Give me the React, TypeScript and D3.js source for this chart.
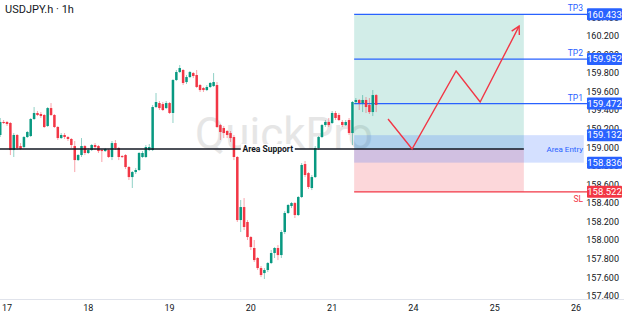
import React from 'react';
import * as d3 from 'd3';

const W = 624;
const H = 316;
const title = 'USDJPY.h · 1h';
const watermark = 'QuickPro';

const dayTicks = [2, 26, 50, 74, 98, 122, 146, 170];
const dayLabels = ['17', '18', '19', '20', '21', '24', '25', '26'];
const priceTicks = [157.4, 157.6, 157.8, 158.0, 158.2, 158.4, 158.6, 158.8, 159.0, 159.2, 159.4, 159.6, 159.8, 160.0, 160.2, 160.4];

const openP = [159.134,159.274,159.274,159.263,158.972,159.134,159.015,159.004,159.112,159.123,159.306,159.371,159.360,159.349,159.231,159.424,159.349,159.220,159.101,159.134,159.112,159.091,159.015,158.864,158.918,159.015,158.940,158.972,159.026,159.015,158.972,158.961,158.972,158.897,159.047,158.994,158.907,158.918,158.789,158.681,158.735,158.757,158.897,158.897,158.972,158.972,159.435,159.478,159.467,159.424,159.478,159.371,159.726,159.812,159.834,159.704,159.758,159.801,159.780,159.672,159.640,159.618,159.651,159.661,159.672,159.241,159.209,159.177,159.155,159.112,158.897,158.218,158.358,158.197,158.035,157.917,157.809,157.701,157.647,157.680,157.755,157.863,157.917,157.841,158.089,158.294,158.369,158.401,158.272,158.466,158.821,158.724,158.563,158.681,158.994,159.112,159.241,159.274,159.263,159.371,159.349,159.274,159.241,159.295,159.155,159.489,159.511,159.478,159.511,159.457,159.381,159.564];
const highP = [159.317,159.295,159.284,159.274,159.155,159.144,159.047,159.123,159.177,159.317,159.435,159.392,159.381,159.360,159.435,159.478,159.360,159.231,159.155,159.155,159.123,159.101,159.069,158.929,159.101,159.026,158.994,159.037,159.047,159.026,158.983,158.994,158.983,159.069,159.080,159.004,158.918,158.929,158.800,158.746,158.778,158.951,158.961,159.026,159.037,159.457,159.586,159.500,159.489,159.500,159.489,159.737,159.834,159.887,159.844,159.780,159.823,159.812,159.834,159.683,159.651,159.672,159.704,159.801,159.704,159.252,159.231,159.187,159.177,159.134,158.907,158.434,158.455,158.218,158.046,158.003,157.820,157.723,157.701,157.766,157.895,157.927,157.949,158.111,158.315,158.391,158.412,158.412,158.477,158.832,158.854,158.735,158.703,159.015,159.123,159.252,159.295,159.317,159.392,159.392,159.371,159.295,159.295,159.317,159.500,159.532,159.521,159.564,159.543,159.532,159.618,159.575];
const lowP = [159.112,159.252,159.231,158.918,158.897,158.972,158.972,158.994,159.101,159.112,159.295,159.338,159.317,159.209,159.220,159.338,159.209,159.080,159.091,159.091,159.069,158.994,158.735,158.854,158.897,158.918,158.929,158.961,158.972,158.940,158.843,158.951,158.886,158.864,158.972,158.864,158.886,158.768,158.649,158.563,158.714,158.746,158.886,158.886,158.961,158.961,159.424,159.403,159.392,159.414,159.360,159.263,159.715,159.801,159.672,159.683,159.747,159.747,159.640,159.597,159.597,159.607,159.640,159.651,159.209,159.080,159.101,159.101,159.058,158.864,158.197,158.089,158.111,158.003,157.895,157.766,157.680,157.604,157.583,157.658,157.744,157.809,157.787,157.809,158.067,158.283,158.347,158.240,158.261,158.455,158.681,158.552,158.541,158.671,158.972,159.101,159.220,159.220,159.252,159.295,159.284,159.220,159.231,159.134,159.026,159.467,159.403,159.381,159.371,159.360,159.338,159.381];
const closeP = [159.274,159.263,159.252,158.972,159.134,158.994,158.983,159.112,159.166,159.306,159.371,159.349,159.338,159.220,159.424,159.349,159.220,159.101,159.134,159.112,159.091,159.026,158.864,158.918,159.015,158.940,158.972,159.026,159.004,158.961,158.961,158.983,158.897,159.047,158.994,158.897,158.897,158.789,158.681,158.735,158.757,158.940,158.940,159.004,159.004,159.435,159.489,159.424,159.403,159.478,159.371,159.726,159.812,159.855,159.694,159.758,159.812,159.769,159.651,159.618,159.618,159.651,159.694,159.704,159.220,159.166,159.155,159.134,159.101,158.897,158.218,158.358,158.143,158.035,157.927,157.787,157.701,157.626,157.680,157.755,157.863,157.917,157.841,158.089,158.294,158.380,158.401,158.272,158.466,158.811,158.703,158.574,158.681,158.994,159.112,159.241,159.274,159.241,159.371,159.317,159.295,159.241,159.274,159.155,159.489,159.511,159.478,159.511,159.435,159.381,159.564,159.457];

const tpNames = ['TP3', 'TP2', 'TP1'];
const tpPrices = [160.433, 159.952, 159.472];
const entryHigh = 159.132;
const entryLow = 158.836;
const slPrice = 158.522;
const supportPrice = 158.983;
const supportLabelIdx = 79;
const boxStartIdx = 104.5;
const boxEndIdx = 154.6;
const bandEndIdx = 172.3;
const arrowIdx = [114.5, 121.6, 134.6, 141.7, 153.2];
const arrowPrice = [159.306, 158.983, 159.823, 159.489, 160.307];

const GREEN = '#089981';
const RED = '#f23645';
const BLUE = '#2962ff';
const TEXT = '#131722';
const FONT = 'Roboto, "Noto Sans", sans-serif';

export default function App() {
  const x = d3.scaleLinear().domain([2, 170]).range([7, 576]);
  const y = d3.scaleLinear().domain([157.4, 160.2]).range([296, 36]);
  const plotRight = 587;
  const step = x(1) - x(0);
  const bw = step * 0.74;

  const candles = openP.map((o, i) => ({ o, h: highP[i], l: lowP[i], c: closeP[i], i }));

  const arrowPts: [number, number][] = arrowIdx.map((ix, k) => [x(ix), y(arrowPrice[k])]);
  const line = d3.line();
  const n = arrowPts.length;
  const [ax, ay] = arrowPts[n - 1];
  const [bx, by] = arrowPts[n - 2];
  const ang = Math.atan2(ay - by, ax - bx);
  const hl = 9;
  const a1 = ang + Math.PI - 0.5;
  const a2 = ang + Math.PI + 0.5;
  const head = `M${ax + hl * Math.cos(a1)},${ay + hl * Math.sin(a1)}L${ax},${ay}L${ax + hl * Math.cos(a2)},${ay + hl * Math.sin(a2)}`;

  const x0 = x(boxStartIdx);
  const x1 = x(boxEndIdx);
  const xb = x(bandEndIdx);
  const tags = [
    ...tpPrices.map((p) => ({ p, color: BLUE })),
    { p: entryHigh, color: BLUE },
    { p: entryLow, color: BLUE },
    { p: slPrice, color: RED },
  ];

  return (
    <div style={{ position: 'fixed', left: 0, top: 0 }}>
      <svg width={W} height={H} style={{ display: 'block', fontFamily: FONT }}>
        <rect width={W} height={H} fill="#ffffff" />
        <text x={284} y={149} textAnchor="middle" fontSize={44} fill="#e6e6e6">{watermark}</text>

        <rect x={x0} y={y(tpPrices[0])} width={x1 - x0} height={y(supportPrice) - y(tpPrices[0])} fill={GREEN} fillOpacity={0.18} />
        <rect x={x0} y={y(supportPrice)} width={x1 - x0} height={y(slPrice) - y(supportPrice)} fill={RED} fillOpacity={0.2} />
        <rect x={x0} y={y(entryHigh)} width={xb - x0} height={y(entryLow) - y(entryHigh)} fill={BLUE} fillOpacity={0.2} />

        {tpPrices.map((p, k) => (
          <line key={k} x1={x0} x2={plotRight} y1={y(p)} y2={y(p)} stroke={BLUE} strokeWidth={1.3} />
        ))}
        <line x1={x0} x2={plotRight} y1={y(slPrice)} y2={y(slPrice)} stroke={RED} strokeWidth={1.3} />

        {candles.map((d) => {
          const col = d.c >= d.o ? GREEN : RED;
          const cx = x(d.i);
          const top = y(Math.max(d.o, d.c));
          const bot = y(Math.min(d.o, d.c));
          return (
            <g key={d.i}>
              <line x1={cx} x2={cx} y1={y(d.h)} y2={y(d.l)} stroke={col} strokeOpacity={0.45} strokeWidth={1} />
              <rect x={cx - bw / 2} y={top} width={bw} height={Math.max(1, bot - top)} fill={col} />
            </g>
          );
        })}

        <line x1={0} x2={x1} y1={y(supportPrice)} y2={y(supportPrice)} stroke={TEXT} strokeWidth={1.4} />
        <rect x={x(supportLabelIdx) - 27} y={y(supportPrice) - 5} width={54} height={10} fill="#ffffff" />
        <text x={x(supportLabelIdx)} y={y(supportPrice)} dy="0.35em" textAnchor="middle" fontSize={8.5} fontWeight="bold" fill={TEXT}>Area Support</text>

        <path d={line(arrowPts) || ''} fill="none" stroke={RED} strokeWidth={1.4} strokeLinejoin="miter" />
        <path d={head} fill="none" stroke={RED} strokeWidth={1.4} />

        {priceTicks.map((t) => (
          <text key={t} x={619} y={y(t)} dy="0.35em" textAnchor="end" fontSize={9} fill={TEXT}>{t.toFixed(3)}</text>
        ))}

        {tags.map((t, k) => (
          <g key={k}>
            <rect x={587} y={y(t.p) - 6} width={35} height={12} fill={t.color} rx={1} />
            <text x={604.5} y={y(t.p)} dy="0.35em" textAnchor="middle" fontSize={9.5} fill="#ffffff">{t.p.toFixed(3)}</text>
          </g>
        ))}

        {tpNames.map((nm, k) => (
          <text key={nm} x={583} y={y(tpPrices[k]) - 3} textAnchor="end" fontSize={8.5} fill={BLUE}>{nm}</text>
        ))}
        <text x={583} y={(y(entryHigh) + y(entryLow)) / 2} dy="0.35em" textAnchor="end" fontSize={8} fill={BLUE}>Area Entry</text>
        <text x={583} y={y(slPrice) + 10} textAnchor="end" fontSize={8.5} fill={RED}>SL</text>

        <line x1={0} x2={W} y1={299.5} y2={299.5} stroke="#e0e3eb" strokeWidth={1} />
        {dayTicks.map((d, k) => (
          <text key={d} x={x(d)} y={308} dy="0.35em" textAnchor="middle" fontSize={9} fill={TEXT}>{dayLabels[k]}</text>
        ))}

        <text x={5} y={13} fontSize={11} fill={TEXT}>{title}</text>
      </svg>
    </div>
  );
}
